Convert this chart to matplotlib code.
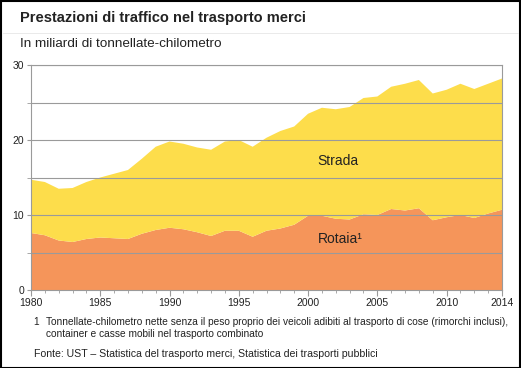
import matplotlib
matplotlib.use('Agg')
from matplotlib import pyplot as plt
from matplotlib.patches import Rectangle
from matplotlib.lines import Line2D

years = list(range(1980, 2015))
rotaia = [7.6, 7.3, 6.6, 6.4, 6.8, 7.0, 6.9, 6.8, 7.5, 8.0,
          8.3, 8.1, 7.7, 7.2, 7.9, 7.9, 7.1, 7.9, 8.2, 8.7,
          9.9, 9.9, 9.5, 9.4, 10.1, 10.0, 10.8, 10.6, 10.9, 9.3,
          9.7, 10.0, 9.6, 10.2, 10.7]
strada = [7.1, 7.1, 6.9, 7.2, 7.6, 8.0, 8.6, 9.2, 10.0, 11.1,
          11.5, 11.4, 11.3, 11.5, 11.9, 12.1, 12.0, 12.4, 13.0, 13.1,
          13.6, 14.4, 14.6, 15.0, 15.5, 15.8, 16.3, 16.9, 17.1, 16.9,
          17.0, 17.5, 17.2, 17.3, 17.5]
xticks = [1980, 1985, 1990, 1995, 2000, 2005, 2010, 2014]
yticks = [0, 10, 20, 30]

plt.rcParams['font.family'] = ['Liberation Sans', 'DejaVu Sans']
dark = '#222222'
grid = '#9a9a9a'

fig = plt.figure(figsize=(5.21, 3.68), dpi=100)
ax = fig.add_axes([31 / 521, 1 - 290 / 368, 471 / 521, 225 / 368])

ax.stackplot(years, rotaia, strada, colors=['#f5955a', '#fddd4b'], linewidth=0)
ax.set_xlim(1980, 2014)
ax.set_ylim(0, 30)
for y in range(5, 31, 5):
    ax.axhline(y, color=grid, lw=0.8, zorder=3)

ax.set_xticks(xticks)
ax.set_xticks(years, minor=True)
ax.set_yticks(yticks)
ax.set_yticks(range(0, 31, 5), minor=True)
ax.tick_params(axis='x', which='major', length=4, color=grid, labelsize=7.5, labelcolor=dark, pad=2)
ax.tick_params(axis='x', which='minor', length=2, color=grid)
ax.tick_params(axis='y', which='both', length=3, color=grid, labelsize=7.5, labelcolor=dark, pad=2)
for s in ax.spines.values():
    s.set_color(grid)
    s.set_linewidth(0.8)

ax.text(2000.7, 17.2, 'Strada', fontsize=10, color=dark, va='center')
ax.text(2000.7, 6.8, 'Rotaia\u00b9', fontsize=10, color=dark, va='center')

fig.text(20 / 521, 1 - 18 / 368, 'Prestazioni di traffico nel trasporto merci',
         fontsize=10.5, fontweight='bold', color=dark, va='center')
fig.add_artist(Line2D([0.005, 0.995], [1 - 33 / 368] * 2, color='#e6e6e6', lw=0.6))
fig.text(20 / 521, 1 - 44 / 368, 'In miliardi di tonnellate-chilometro',
         fontsize=9.7, color=dark, va='center')

fig.text(33 / 521, 1 - 322 / 368, '1', fontsize=7.3, color=dark, va='center')
fig.text(46 / 521, 1 - 322 / 368,
         'Tonnellate-chilometro nette senza il peso proprio dei veicoli adibiti al trasporto di cose (rimorchi inclusi),',
         fontsize=7.3, color=dark, va='center')
fig.text(46 / 521, 1 - 334 / 368, 'container e casse mobili nel trasporto combinato',
         fontsize=7.3, color=dark, va='center')
fig.text(34 / 521, 1 - 354 / 368,
         'Fonte: UST \u2013 Statistica del trasporto merci, Statistica dei trasporti pubblici',
         fontsize=7.6, color=dark, va='center')

fig.add_artist(Rectangle((0.001, 0.001), 0.997, 0.997, transform=fig.transFigure,
                         fill=False, edgecolor='black', lw=1.5))

fig.savefig('out.png', dpi=100)
